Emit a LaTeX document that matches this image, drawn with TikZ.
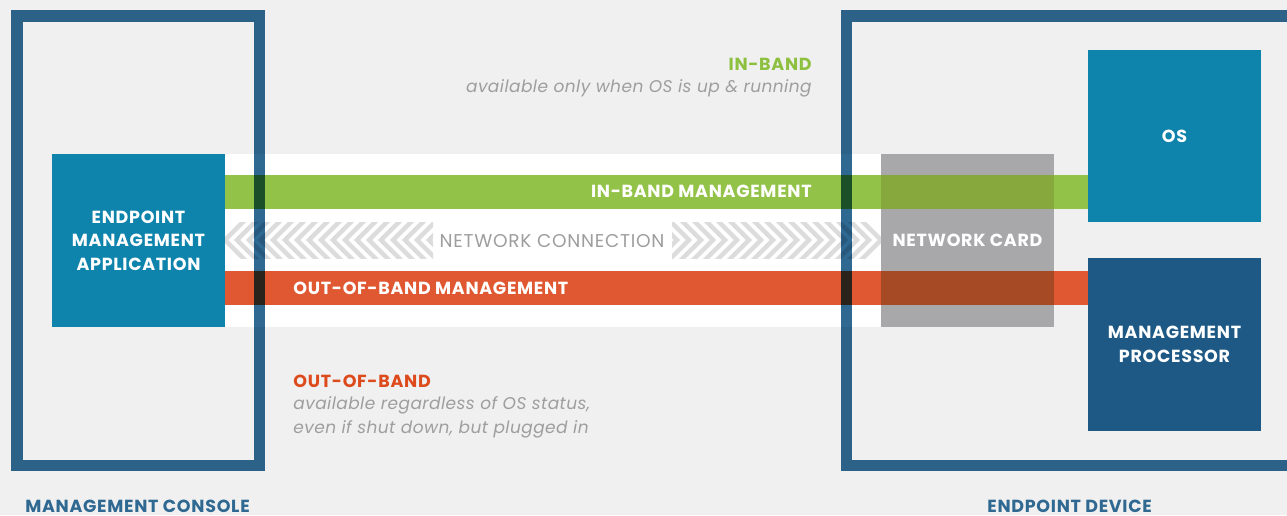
\documentclass[tikz,border=0pt]{standalone}
\usepackage{fontspec}
\setmainfont{Poppins}
\definecolor{bggrey}{RGB}{240,240,240}
\definecolor{frameblue}{RGB}{47,104,145}
\definecolor{appteal}{RGB}{14,132,173}
\definecolor{mpblue}{RGB}{29,89,132}
\definecolor{bandgreen}{RGB}{147,194,72}
\definecolor{bandorange}{RGB}{224,88,49}
\definecolor{cardgrey}{RGB}{168,168,171}
\definecolor{greencard}{RGB}{135,168,60}
\definecolor{orangecard}{RGB}{165,74,37}
\definecolor{chevgrey}{RGB}{220,220,220}
\definecolor{notegrey}{RGB}{158,158,158}
\definecolor{ibgreen}{RGB}{141,192,63}
\definecolor{oborange}{RGB}{221,74,28}
\newcommand{\labfont}{\fontsize{17.5}{23.5}\selectfont\bfseries\addfontfeature{LetterSpace=4}}
\newcommand{\notefont}{\fontsize{17}{23.5}\selectfont\itshape\addfontfeature{LetterSpace=2.5}}
\newcommand{\ncfont}{\fontsize{18.5}{20}\selectfont\addfontfeature{LetterSpace=4}}
\tikzset{every picture/.style={line width=0.75pt},
  frame/.style={draw=frameblue, line width=11.5, blend mode=multiply},
  bluebox/.style={fill=appteal, minimum width=173, minimum height=173, inner sep=0pt, align=center, text=white, font=\labfont},
  cardbox/.style={bluebox, fill=cardgrey},
  band/.style={line width=34},
  chevron/.style={draw=chevgrey, line width=4.5},
  lab/.style={inner sep=0pt, font=\labfont},
  note/.style={inner sep=0pt, text=notegrey, font=\notefont}
}

\begin{document}
\begin{tikzpicture}[x=1pt,y=1pt,yscale=-1,xscale=1]
\useasboundingbox (0,0) rectangle (1287,515);
\fill [bggrey] (0,0) rectangle (1287,515);

%Shape: Rectangle (boxes)
\node (app) [bluebox] at (138.5,240.5) {ENDPOINT\\MANAGEMENT\\APPLICATION};
\node (os) [bluebox, minimum height=172] at (1174.5,136) {OS};
\node (mp) [bluebox, fill=mpblue] at (1174.5,344.5) {MANAGEMENT\\PROCESSOR};

%Shape: Rectangle (white band)
\fill [white] (app.north east) rectangle (881,327);

%Chevrons, left
\begin{scope}
\clip (225,222) rectangle (433,258);
\foreach \i in {0,...,17}
  \draw [chevron] (246+12*\i,219) -- (225+12*\i,240) -- (246+12*\i,261);
\end{scope}
%Chevrons, right
\begin{scope}
\clip (672,222) rectangle (881,258);
\foreach \i in {0,...,18}
  \draw [chevron] (860-12*\i,219) -- (881-12*\i,240) -- (860-12*\i,261);
\end{scope}

%Straight Lines (bands)
\coordinate (ib) at (0,192);
\coordinate (ob) at (0,288);
\draw [band, bandgreen] (app.east |- ib) -- (os.west |- ib);
\draw [band, bandorange] (app.east |- ob) -- (mp.west |- ob);

%Shape: Rectangle (card)
\node (card) [cardbox] at (967.5,240.5) {NETWORK CARD};
\draw [band, greencard] (card.west |- ib) -- (card.east |- ib);
\draw [band, orangecard] (card.west |- ob) -- (card.east |- ob);

%Shape: Rectangle (frames)
\draw [frame] (16.75,15.75) rectangle (259.25,465.25);
\draw [frame] (846.5,15.75) rectangle (1300,465.25);

% Text Node
\node (ibm) [lab, text=white, anchor=base east] at (812,197) {IN-BAND MANAGEMENT};
% Text Node
\node (obm) [lab, text=white, anchor=base west] at (293,294) {OUT-OF-BAND MANAGEMENT};
% Text Node
\node (nc) [inner sep=0pt, text=notegrey, font=\ncfont, anchor=base] at (552,247) {NETWORK CONNECTION};
% Text Node
\node (ibt) [lab, text=ibgreen, anchor=base east] at (812,70) {IN-BAND};
% Text Node
\node (ibn) [note, anchor=base east] at (812,92) {available only when OS is up \& running};
% Text Node
\node (obt) [lab, text=oborange, anchor=base west] at (293,387) {OUT-OF-BAND};
% Text Node
\node (obn1) [note, anchor=base west] at (293,409.5) {available regardless of OS status,};
% Text Node
\node (obn2) [note, anchor=base west] at (293,433) {even if shut down, but plugged in};
% Text Node
\node (mc) [lab, text=frameblue, anchor=base west] at (25,512) {MANAGEMENT CONSOLE};
% Text Node
\node (ed) [lab, text=frameblue, anchor=base west] at (987,512) {ENDPOINT DEVICE};

\end{tikzpicture}
\end{document}
